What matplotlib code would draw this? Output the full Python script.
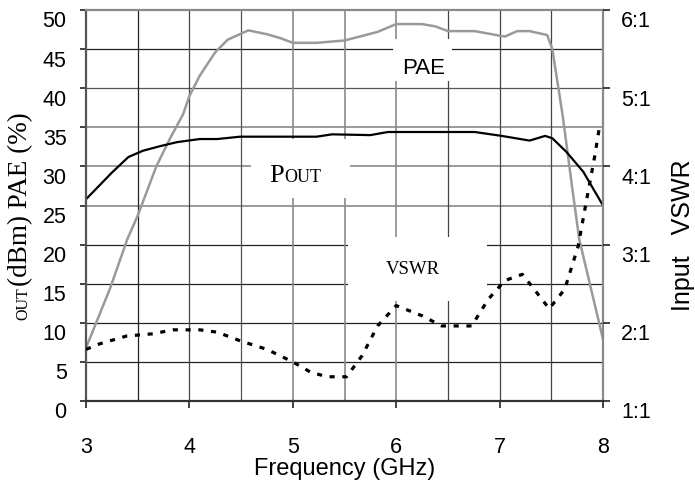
import matplotlib
matplotlib.use('Agg')
import matplotlib.pyplot as plt
import matplotlib.transforms as mtransforms
from matplotlib.patches import Rectangle

# data
pae_freq = [3.0, 3.23, 3.4, 3.5, 3.68, 3.81, 3.94, 4.0, 4.1, 4.25, 4.37, 4.57, 4.75, 4.88, 5.0, 5.23,
            5.5, 5.82, 6.0, 6.25, 6.38, 6.5, 6.76, 7.05, 7.17, 7.29, 7.46, 7.51, 7.61, 7.7, 7.77, 8.0]
pae = [6.8, 14.3, 20.7, 23.7, 30.0, 33.5, 36.7, 39.0, 41.6, 44.6, 46.2, 47.4, 46.9, 46.4, 45.8, 45.8,
       46.1, 47.2, 48.2, 48.2, 47.9, 47.3, 47.3, 46.6, 47.3, 47.3, 46.8, 45.0, 36.5, 27.5, 20.7, 7.9]

pout_freq = [3.0, 3.25, 3.41, 3.55, 3.72, 3.88, 4.1, 4.27, 4.49, 5.23, 5.38, 5.75, 5.92, 6.76,
             7.02, 7.29, 7.44, 7.51, 7.65, 7.81, 8.0]
pout = [25.8, 29.2, 31.2, 32.0, 32.6, 33.1, 33.5, 33.5, 33.8, 33.8, 34.1, 34.0, 34.4, 34.4,
        33.9, 33.3, 33.9, 33.6, 31.8, 29.3, 25.0]

vswr_freq = [3.0, 3.13, 3.39, 3.65, 3.84, 4.1, 4.27, 4.49, 4.75, 5.0, 5.17, 5.33, 5.52, 5.67, 5.82,
             6.0, 6.25, 6.44, 6.73, 6.89, 7.05, 7.22, 7.31, 7.48, 7.63, 7.76, 7.83, 7.92, 7.97]
vswr = [1.66, 1.73, 1.83, 1.86, 1.91, 1.91, 1.88, 1.77, 1.66, 1.50, 1.37, 1.31, 1.31, 1.58, 1.96,
        2.22, 2.09, 1.96, 1.96, 2.30, 2.54, 2.62, 2.47, 2.18, 2.43, 2.98, 3.49, 4.13, 4.54]

x_ticks = [3, 4, 5, 6, 7, 8]
left_ticks = [0, 5, 10, 15, 20, 25, 30, 35, 40, 45, 50]
right_ticks = [1, 2, 3, 4, 5, 6]
right_labels = ['1:1', '2:1', '3:1', '4:1', '5:1', '6:1']

plt.rcParams['font.family'] = ['Liberation Sans', 'DejaVu Sans']
serif = 'Liberation Serif'

fig = plt.figure(figsize=(6.95, 4.85), dpi=100)
ax = fig.add_axes([86/695, 1-402/485, (603-86)/695, (402-11)/485])
ax.set_xlim(3, 8)
ax.set_ylim(0, 50)

# grid, mixed black / grey like the scanned original
dark = '#222222'
grey = '#8a8a8a'
hcol = {0: dark, 5: dark, 10: dark, 15: dark, 20: dark, 25: grey, 30: grey, 35: grey, 40: '#555555', 45: dark, 50: grey}
for v in left_ticks[1:-1]:
    ax.axhline(v, color=hcol[v], lw=1.2 if hcol[v] == grey else 0.9, zorder=1)
vcol = {3.5: dark, 4.0: '#444444', 4.5: '#555555', 5.0: grey, 5.5: grey, 6.0: grey, 6.5: '#444444', 7.0: '#444444', 7.5: '#444444'}
for v in [3.5, 4.0, 4.5, 5.0, 5.5, 6.0, 6.5, 7.0, 7.5]:
    ax.axvline(v, color=vcol[v], lw=1.2 if vcol[v] == grey else 0.9, zorder=1)

# white gaps behind the curve labels
for (x0, x1, y0, y1) in [(5.97, 6.54, 40.9, 46.3), (4.6, 5.55, 26.0, 33.5), (5.53, 6.88, 12.8, 21.0)]:
    ax.add_patch(Rectangle((x0, y0), x1-x0, y1-y0, facecolor='white', edgecolor='none', zorder=1.5))

ax.plot(pae_freq, pae, color='#9a9a9a', lw=1.8, zorder=2)
ax.plot(pout_freq, pout, color='black', lw=1.6, zorder=2.1)

ax.text(6.27, 42.7, 'PAE', fontsize=16, ha='center', va='center', zorder=3)
ax.text(4.915, 28.1, 'P', fontsize=19, family=serif, ha='right', va='baseline', zorder=3)
ax.text(4.915, 28.1, 'OUT', fontsize=13, family=serif, ha='left', va='baseline', zorder=3)
ax.text(6.16, 17.0, 'VSWR', fontsize=13.5, family=serif, ha='center', va='center', zorder=3)

ax.set_xticks(x_ticks)
ax.set_yticks(left_ticks)
ax.tick_params(axis='x', direction='out', length=5, width=1.2, color=dark, pad=20, labelsize=15.5)
ax.tick_params(axis='y', direction='out', length=4, width=1.2, color=dark, pad=10, labelsize=15.5)
ax.set_xlabel('Frequency (GHz)', fontsize=17, labelpad=0)

for s, c in [('left', '#555555'), ('bottom', '#333333'), ('top', grey), ('right', grey)]:
    ax.spines[s].set_color(c)
    ax.spines[s].set_linewidth(1.6)

shift = mtransforms.ScaledTranslation(0, -0.085, fig.dpi_scale_trans)
for lab in ax.get_yticklabels():
    lab.set_transform(lab.get_transform() + shift)

ax2 = ax.twinx()
ax2.set_ylim(1, 6)
ax2.set_yticks(right_ticks)
ax2.set_yticklabels(right_labels)
ax2.tick_params(axis='y', direction='out', length=5, width=1.2, color=dark, pad=8, labelsize=15.5)
for s in ax2.spines.values():
    s.set_visible(False)
for lab in ax2.get_yticklabels():
    lab.set_transform(lab.get_transform() + shift)
ax2.plot(vswr_freq, vswr, color='black', lw=2.3, linestyle=(0, (1.6, 2.4)), zorder=2)

# axis titles
fig.text(27/695, 1-320/485, 'OUT', rotation=90, rotation_mode='anchor', ha='left', va='baseline',
         fontsize=11.5, family=serif)
fig.text(27/695, 1-286/485, '(dBm) PAE (%)', rotation=90, rotation_mode='anchor', ha='left', va='baseline',
         fontsize=19.5, family=serif)
fig.text(690/695, 1-235/485, 'Input   VSWR', rotation=90, rotation_mode='anchor', ha='center', va='baseline',
         fontsize=18)

fig.savefig('out.png', dpi=100)
